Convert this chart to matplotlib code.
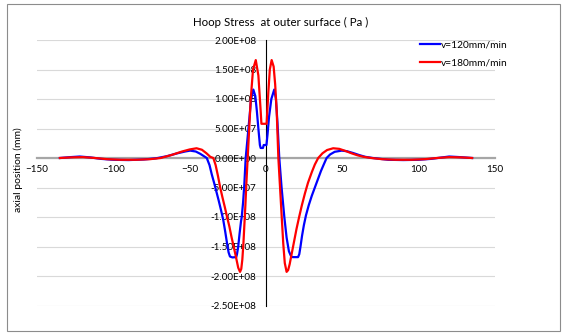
import numpy as np
import matplotlib
matplotlib.use("Agg")
import matplotlib.pyplot as plt
import matplotlib.patches as mpatches
from matplotlib.ticker import FuncFormatter

# values (stress in MPa, multiplied up below)
x_120 = [-135, -128, -122, -115, -108, -100, -90, -80, -72, -65, -58, -53, -49.7, -46,
         -43, -40, -38.8, -37, -35.5, -34, -32.5, -31, -29.5, -28, -26.7, -25.5, -24.5,
         -23.6, -22, -19.5, -19, -18.2, -17.3, -16.4, -15.9, -15, -14.2, -13.3, -12.4,
         -11.5, -10.6, -9.8, -8.3, -7, -6, -5, -4, -3.5, -2, -1.5, 0.3, 1, 2, 3.5, 5.4,
         6.5, 7.5, 8.7, 10.2, 12, 13.5, 15, 16.5, 17.5, 21, 21.8, 22.6, 23.6, 24.8, 26.2,
         28, 30, 32, 34, 36, 38, 39.7, 42, 45, 49.6, 53, 57, 61, 65, 70, 80, 90, 100,
         108, 114, 120, 127, 135]
s_120 = [0, 1.5, 2.5, 1, -1.5, -3, -3.5, -2.5, -0.5, 3, 8, 11, 12.5, 11,
         7, 2, 0, -12, -28, -42, -57, -72, -88, -105, -125, -145, -160,
         -167, -168.5, -168, -163, -150, -128, -108, -100, -75, -45, 0, 25,
         50, 75, 100, 116, 105, 80, 50, 22, 17, 17, 22, 22, 40, 70, 100, 116,
         100, 60, 0, -50, -100, -135, -158, -167, -168, -168, -163, -150, -132, -114, -97,
         -80, -64, -50, -36, -22, -10, 0, 6, 10.5, 12.5, 11.5, 8.5, 5, 2, 0, -3, -3.5, -3,
         -1.5, 0.5, 2.5, 1.5, 0]

x_180 = [-135, -128, -120, -112, -104, -95, -85, -76, -69, -62, -55, -50, -45.5, -42,
         -39, -36.5, -34.5, -33, -31.5, -30, -28.5, -27, -25.5, -24, -22.5, -21, -19.5,
         -18.2, -17, -16.2, -15.5, -14.8, -14.2, -13.5, -12.8, -12, -11, -10, -8.5, -6.7,
         -5, -3.5, -3, 0.4, 1.5, 2.5, 3.7, 5, 6, 7, 8.1, 9.2, 10.3, 11.3, 12.3, 13.5, 14.5,
         15.5, 17, 18.5, 20, 21.7, 23.5, 25.5, 27.5, 30, 32, 34.2, 37, 40, 44, 48, 52, 56,
         60, 64, 69, 76, 85, 95, 104, 112, 120, 128, 135]
s_180 = [0, 1, 1.5, 0, -2, -3, -3, -2, 0, 5, 11, 14.5, 16.5, 14,
         8, 2, 0, -12, -30, -50, -67, -83, -100, -116, -135, -152, -170,
         -186, -193, -188, -172, -145, -115, -80, -40, 0, 50, 100, 150, 166,
         140, 80, 58, 58, 110, 150, 166, 155, 125, 80, 0, -50, -100, -145, -178, -193, -190,
         -180, -160, -140, -120, -100, -80, -60, -42, -24, -11, 0, 8, 13.5, 16.5, 15.5, 12, 8,
         4.5, 2, 0, -2, -3, -3, -2, 0, 1.5, 1, 0]

labels = ["v=120mm/min", "v=180mm/min"]
colors = ["#0000FF", "#FF0000"]

plt.rcParams["font.family"] = ["Lato", "DejaVu Sans"]

W, H = 565, 335
fig = plt.figure(figsize=(W / 100, H / 100), dpi=100)


def px(x0, y0):
    return x0 / W, 1 - y0 / H


# outer chart frame
fig.patches.append(mpatches.Rectangle((7 / W, 1 - 331 / H), 553 / W, 327 / H,
                                      transform=fig.transFigure, fill=False,
                                      edgecolor="#8c8c8c", linewidth=0.8))

ax = fig.add_axes([37 / W, 1 - 305.5 / H, 458 / W, 265.5 / H])
ax.set_xlim(-150, 150)
ax.set_ylim(-2.5e8, 2.0e8)

for y in np.arange(-2.5e8, 2.01e8, 5e7):
    ax.axhline(y, color="#d9d9d9", linewidth=0.8, zorder=0)

ax.plot(x_120, np.array(s_120) * 1e6, color=colors[0], linewidth=1.6, label=labels[0], zorder=3)
ax.plot(x_180, np.array(s_180) * 1e6, color=colors[1], linewidth=1.6, label=labels[1], zorder=3)

for side in ["top", "right"]:
    ax.spines[side].set_visible(False)
ax.spines["left"].set_position(("data", 0))
ax.spines["left"].set_color("black")
ax.spines["left"].set_linewidth(0.8)
ax.spines["bottom"].set_position(("data", 0))
ax.spines["bottom"].set_color("#a6a6a6")
ax.spines["bottom"].set_linewidth(1.6)
ax.spines["bottom"].set_zorder(1)

ax.set_xticks(np.arange(-150, 151, 50))
ax.set_yticks(np.arange(-2.5e8, 2.01e8, 5e7))
ax.yaxis.set_major_formatter(FuncFormatter(lambda v, p: f"{v:.2E}"))
ax.tick_params(axis="both", length=0, labelsize=7.1, colors="black")
ax.tick_params(axis="y", pad=7)
ax.tick_params(axis="x", pad=5)
for t in ax.get_yticklabels() + ax.get_xticklabels():
    t.set_zorder(5)

fig.text(*px(281, 22), "Hoop Stress  at outer surface ( Pa )", ha="center", va="center", fontsize=8.3)
fig.text(*px(18, 170), "axial position (mm)", ha="center", va="center", rotation=90, fontsize=7.5)

ax.legend(loc="upper left", bbox_to_anchor=px(420, 40.5), bbox_transform=fig.transFigure,
          frameon=False, fontsize=7.3, handlelength=2.0, handletextpad=0.1,
          labelspacing=0.9, borderpad=0, borderaxespad=0)

fig.savefig("out.png", dpi=100)
